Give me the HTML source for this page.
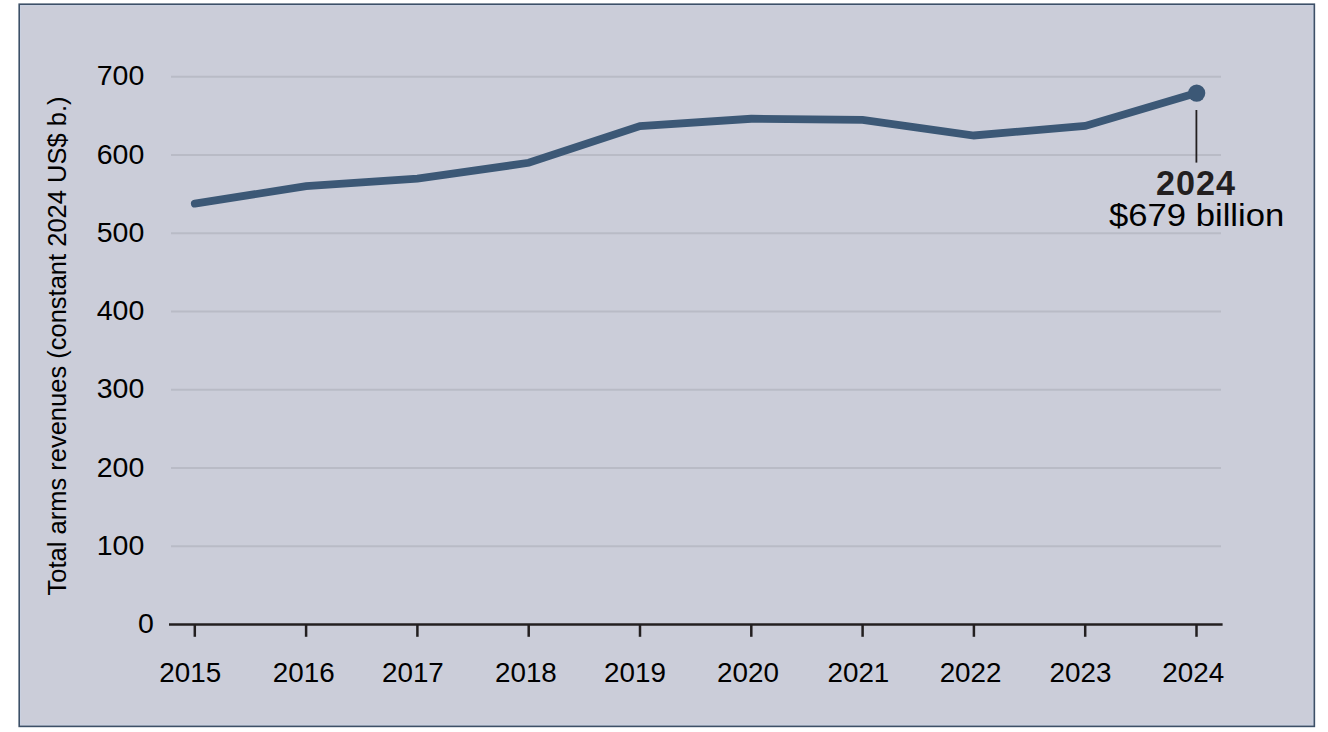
<!DOCTYPE html>
<html><head><meta charset="utf-8"><title>Total arms revenues</title>
<style>
html,body{margin:0;padding:0;background:#fff;width:1328px;height:732px;overflow:hidden}
svg{display:block;position:absolute;left:0;top:0}
text{font-family:"Liberation Sans",Arial,sans-serif;fill:#000}
</style></head><body>
<svg width="1328" height="732" viewBox="0 0 1328 732">
<rect x="19.2" y="4.2" width="1295.16" height="722.2" fill="#cbcdd9"/>
<rect x="20.5" y="5.5" width="1292" height="719" fill="none" stroke="#c9d0e0" stroke-width="1"/>
<rect x="19.2" y="4.2" width="1295.16" height="722.2" fill="none" stroke="#3d5068" stroke-width="1.6"/>
<g stroke="#b9bbc6" stroke-width="2"><line x1="171" x2="1221" y1="546.26" y2="546.26"/><line x1="171" x2="1221" y1="468.02" y2="468.02"/><line x1="171" x2="1221" y1="389.78" y2="389.78"/><line x1="171" x2="1221" y1="311.54" y2="311.54"/><line x1="171" x2="1221" y1="233.30" y2="233.30"/><line x1="171" x2="1221" y1="155.06" y2="155.06"/><line x1="171" x2="1221" y1="76.82" y2="76.82"/></g>
<g font-size="26.9" text-anchor="end"><text transform="translate(144.3 554.76) scale(1.06 1)">100</text><text transform="translate(144.3 476.52) scale(1.06 1)">200</text><text transform="translate(144.3 398.28) scale(1.06 1)">300</text><text transform="translate(144.3 320.04) scale(1.06 1)">400</text><text transform="translate(144.3 241.80) scale(1.06 1)">500</text><text transform="translate(144.3 163.56) scale(1.06 1)">600</text><text transform="translate(144.3 85.32) scale(1.06 1)">700</text><text transform="translate(153.9 633.00) scale(1.06 1)">0</text></g>
<text transform="translate(66.2 346) rotate(-90)" font-size="25.5" text-anchor="middle">Total arms revenues (constant 2024 US$ b.)</text>
<g stroke="#231f20" stroke-width="2.5"><line x1="169" x2="1222.6" y1="624.5" y2="624.5"/><line x1="194.80" x2="194.80" y1="624.5" y2="636.8"/><line x1="306.10" x2="306.10" y1="624.5" y2="636.8"/><line x1="417.40" x2="417.40" y1="624.5" y2="636.8"/><line x1="528.70" x2="528.70" y1="624.5" y2="636.8"/><line x1="640.00" x2="640.00" y1="624.5" y2="636.8"/><line x1="751.30" x2="751.30" y1="624.5" y2="636.8"/><line x1="862.60" x2="862.60" y1="624.5" y2="636.8"/><line x1="973.90" x2="973.90" y1="624.5" y2="636.8"/><line x1="1085.20" x2="1085.20" y1="624.5" y2="636.8"/><line x1="1196.50" x2="1196.50" y1="624.5" y2="636.8"/></g>
<g font-size="26.9" text-anchor="middle"><text transform="translate(190.30 681.6) scale(1.035 1)">2015</text><text transform="translate(303.70 681.6) scale(1.035 1)">2016</text><text transform="translate(412.90 681.6) scale(1.035 1)">2017</text><text transform="translate(525.90 681.6) scale(1.035 1)">2018</text><text transform="translate(635.00 681.6) scale(1.035 1)">2019</text><text transform="translate(748.00 681.6) scale(1.035 1)">2020</text><text transform="translate(858.40 681.6) scale(1.035 1)">2021</text><text transform="translate(970.60 681.6) scale(1.035 1)">2022</text><text transform="translate(1080.50 681.6) scale(1.035 1)">2023</text><text transform="translate(1193.20 681.6) scale(1.035 1)">2024</text></g>
<polyline points="194.80,203.57 306.10,186.20 417.40,178.53 528.70,162.81 640.00,126.11 751.30,118.76 862.60,119.85 973.90,135.50 1085.20,125.88 1196.50,92.94" fill="none" stroke="#3c5876" stroke-width="7.8" stroke-linecap="round" stroke-linejoin="miter"/>
<circle cx="1196.7" cy="93.1" r="8.6" fill="#3c5876"/>
<line x1="1196.4" x2="1196.4" y1="110" y2="162.6" stroke="#231f20" stroke-width="1.8"/>
<text x="1196.0" y="195.3" font-size="34.2" font-weight="bold" text-anchor="middle" letter-spacing="1.0" style="fill:#231f20">2024</text>
<text transform="translate(1196.6 226) scale(1.104 1)" font-size="31.4" text-anchor="middle">$679 billion</text>
</svg>
</body></html>
